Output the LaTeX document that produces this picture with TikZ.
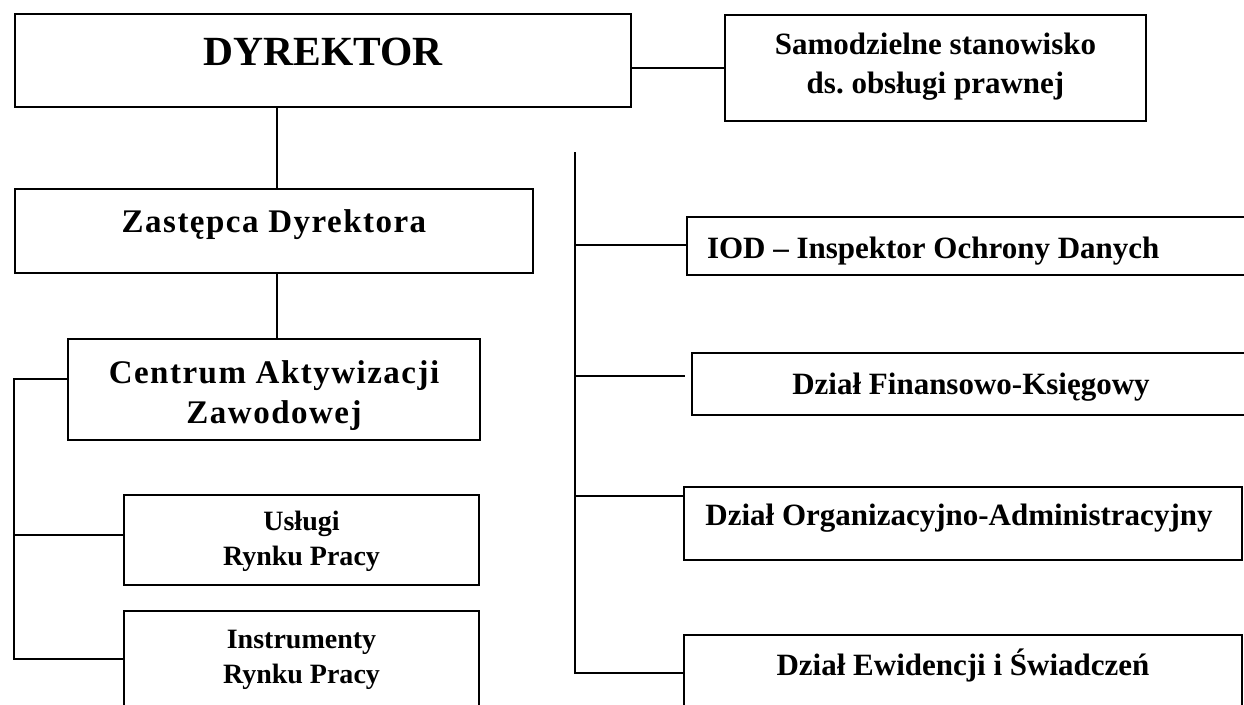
\documentclass[tikz,border=0pt]{standalone}
\usepackage{fontspec}
\setmainfont{Liberation Serif}
\newfontfamily\spaced[LetterSpace=4.5]{Liberation Serif}
\frenchspacing
\begin{document}
\begin{tikzpicture}[x=1pt,y=1pt,
  box/.style={draw=black,line width=1.8pt,rectangle,inner sep=0pt,
    text height=0pt,text depth=0pt,font=\bfseries},
  conn/.style={draw=black,line width=1.8pt}]
\useasboundingbox (0,0) rectangle (1244,-704);
\clip (0,0) rectangle (1244,-704);
\fill[white] (0,0) rectangle (1244,-704);

% left column
\node[box,minimum width=616pt,minimum height=93pt] (dyr) at (323,-60.5)
  {\fontsize{41.5}{49}\selectfont\raisebox{-4.5pt}{DYREKTOR}};
\node[box,minimum width=421pt,minimum height=106pt] (sam) at (935.5,-68)
  {\fontsize{31}{39}\selectfont\raisebox{14pt}{\begin{tabular}[t]{@{}c@{}}Samodzielne stanowisko\\ds. obsługi prawnej\end{tabular}}};
\node[box,minimum width=518pt,minimum height=84pt] (zast) at (274,-231)
  {\fontsize{33}{40}\spaced\bfseries\raisebox{-1pt}{Zastępca Dyrektora}};
\node[box,minimum width=412pt,minimum height=101pt] (cent) at (274,-389.5)
  {\fontsize{33}{40}\spaced\bfseries\raisebox{6.5pt}{\begin{tabular}[t]{@{}c@{}}Centrum Aktywizacji\\Zawodowej\end{tabular}}};
\node[box,minimum width=355pt,minimum height=90pt] (usl) at (301.5,-540)
  {\fontsize{28}{35}\selectfont\raisebox{10pt}{\begin{tabular}[t]{@{}c@{}}Usługi\\Rynku Pracy\end{tabular}}};
\node[box,minimum width=355pt,minimum height=109pt] (instr) at (301.5,-665.5)
  {\fontsize{28}{35}\selectfont\raisebox{17.5pt}{\begin{tabular}[t]{@{}c@{}}Instrumenty\\Rynku Pracy\end{tabular}}};

% right column
\node[box,minimum width=563pt,minimum height=58pt] (iod) at (968.5,-246)
  {\fontsize{31}{39}\selectfont\raisebox{-12pt}{\makebox[523pt][l]{IOD – Inspektor Ochrony Danych}}};
\node[box,minimum width=558pt,minimum height=62pt] (fin) at (971,-384)
  {\fontsize{31}{39}\selectfont\raisebox{-10pt}{Dział Finansowo-Księgowy}};
\node[box,minimum width=558pt,minimum height=73pt] (org) at (963,-523.5)
  {\fontsize{31}{39}\selectfont\raisebox{-1.5pt}{\hspace*{-8pt}Dział Organizacyjno-Administracyjny}};
\node[box,minimum width=558pt,minimum height=85pt] (ewi) at (963,-677.5)
  {\fontsize{31}{39}\selectfont\raisebox{2.5pt}{Dział Ewidencji i Świadczeń}};

% connector coordinates
\coordinate (vx) at (277,0);
\coordinate (l1) at (14,-379);
\coordinate (l2) at (14,-535);
\coordinate (l3) at (14,-659);
\coordinate (rt) at (575,-152);
\coordinate (j1) at (575,-245);
\coordinate (j2) at (575,-376);
\coordinate (j3) at (575,-496);
\coordinate (j4) at (575,-673);

% connectors
\draw[conn] (vx |- dyr.south) -- (vx |- zast.north);
\draw[conn] (vx |- zast.south) -- (vx |- cent.north);
\draw[conn] (dyr.east |- sam.west) -- (sam.west);
\draw[conn] (l1 -| cent.west) -- (l1) -- (l3) -- (l3 -| instr.west);
\draw[conn] (l2) -- (l2 -| usl.west);
\draw[conn] (rt) -- (j4) -- (j4 -| ewi.west);
\draw[conn] (j1) -- (j1 -| iod.west);
\draw[conn] (j2) -- ([xshift=-6pt]j2 -| fin.west);
\draw[conn] (j3) -- (j3 -| org.west);
\end{tikzpicture}
\end{document}
